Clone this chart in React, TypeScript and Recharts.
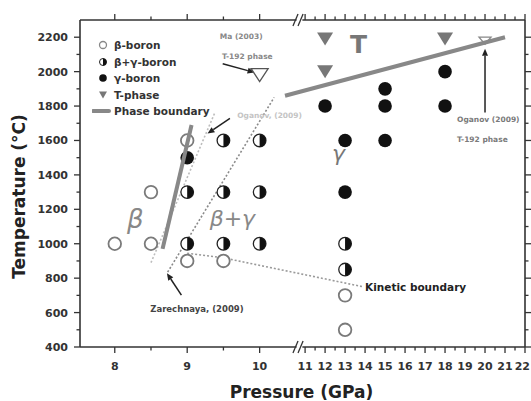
import React from 'react';
import {
  ComposedChart,
  XAxis,
  YAxis,
  Scatter,
  Line,
  ReferenceLine,
  ReferenceDot,
  Legend,
} from 'recharts';

// pressure axis is broken after ~10.6 GPa, right part squeezed
const BREAK_LO = 10.6;
const BREAK_HI = 10.9;
const SQUEEZE = 0.276;
const toU = (p: number) => (p <= BREAK_LO ? p : BREAK_LO + (p - BREAK_HI) * SQUEEZE);
const fromU = (u: number) => (u <= BREAK_LO ? u : BREAK_HI + (u - BREAK_LO) / SQUEEZE);

const P_MIN = 7.52;
const P_MAX = 22;
const T_MIN = 400;
const T_MAX = 2300;

// beta-boron (open circles)
const betaP = [8, 8.5, 8.5, 9, 9, 9.5, 13, 13];
const betaT = [1000, 1000, 1300, 1600, 900, 900, 700, 500];
// beta + gamma (half filled)
const mixP = [9, 9, 9.5, 9.5, 9.5, 10, 10, 10, 13, 13];
const mixT = [1300, 1000, 1600, 1300, 1000, 1600, 1300, 1000, 1000, 850];
// gamma-boron (filled)
const gammaP = [9, 12, 13, 13, 15, 15, 15, 18, 18];
const gammaT = [1500, 1800, 1600, 1300, 1900, 1800, 1600, 2000, 1800];
// T-phase
const tPhaseP = [12, 12, 18];
const tPhaseT = [2190, 2000, 2190];
// T-192 phase from literature
const maP = [10];
const maT = [1980];
const oganovTriP = [20];
const oganovTriT = [2180];

// boundaries
const boundLowP = [8.66, 9.06];
const boundLowT = [970, 1690];
const boundHighP = [10.35, 21];
const boundHighT = [1860, 2200];
const oganovLineP = [8.5, 9.38];
const oganovLineT = [890, 1760];
const zarechLineP = [8.73, 10.2];
const zarechLineT = [835, 1850];
const kineticP = [9, 9.5, 13.9];
const kineticT = [945, 918, 750];

const xTicksP = [8, 8.5, 9, 9.5, 10, 11, 11.5, 12, 12.5, 13, 13.5, 14, 14.5, 15, 15.5, 16, 16.5, 17, 17.5, 18, 18.5, 19, 19.5, 20, 20.5, 21, 21.5, 22];
const yTicks = [400, 500, 600, 700, 800, 900, 1000, 1100, 1200, 1300, 1400, 1500, 1600, 1700, 1800, 1900, 2000, 2100, 2200];

const legendLabels = ['β-boron', 'β+γ-boron', 'γ-boron', 'T-phase', 'Phase boundary'];

const FONT = '"DejaVu Sans", sans-serif';
const AX = '#333';

const pts = (ps: number[], ts: number[]) => ps.map((p, i) => ({ u: toU(p), t: ts[i] }));

const OpenCircle = ({ cx, cy }: any) => (
  <circle cx={cx} cy={cy} r={6.3} fill="#fff" stroke="#7a7a7a" strokeWidth={1.8} />
);
const FullCircle = ({ cx, cy }: any) => <circle cx={cx} cy={cy} r={6.8} fill="#111" />;
const HalfCircle = ({ cx, cy }: any) => {
  const r = 6.3;
  return (
    <g>
      <circle cx={cx} cy={cy} r={r} fill="#fff" stroke="#222" strokeWidth={1.3} />
      <path d={`M${cx},${cy - r} A${r},${r} 0 0 1 ${cx},${cy + r} Z`} fill="#111" />
    </g>
  );
};
const DownTri = ({ cx, cy, w = 8, h = 6.5, fill = '#777', stroke = 'none' }: any) => (
  <polygon
    points={`${cx - w},${cy - h} ${cx + w},${cy - h} ${cx},${cy + h}`}
    fill={fill}
    stroke={stroke}
    strokeWidth={1.3}
  />
);

const Arrow = (props: any) => {
  const { x1, y1, x2, y2 } = props;
  const a = Math.atan2(y2 - y1, x2 - x1);
  const L = 7;
  const W = 3;
  const bx = x2 - L * Math.cos(a);
  const by = y2 - L * Math.sin(a);
  const px = -Math.sin(a) * W;
  const py = Math.cos(a) * W;
  return (
    <g>
      <line x1={x1} y1={y1} x2={bx} y2={by} stroke="#222" strokeWidth={1.5} />
      <polygon points={`${x2},${y2} ${bx + px},${by + py} ${bx - px},${by - py}`} fill="#222" />
    </g>
  );
};

const XTick = (props: any) => {
  const { x, y, payload, side } = props;
  const p = Math.round(fromU(payload.value) * 2) / 2;
  const major = Number.isInteger(p);
  const len = major ? 6 : 3.5;
  const dir = side === 'top' ? -1 : 1;
  // last label sits on the chart edge, keep it inside
  const last = p === P_MAX;
  return (
    <g>
      <line x1={x} x2={x} y1={y} y2={y + dir * len} stroke={AX} strokeWidth={1.3} />
      {side === 'bottom' && major && (
        <text
          x={last ? x + 5 : x}
          y={y + 23}
          textAnchor={last ? 'end' : 'middle'}
          fontFamily={FONT}
          fontWeight="bold"
          fontSize={11}
          fill={AX}
        >
          {p}
        </text>
      )}
    </g>
  );
};

const YTick = (props: any) => {
  const { x, y, payload, side } = props;
  const t = payload.value;
  const major = t % 200 === 0;
  const len = major ? 6 : 3.5;
  const dir = side === 'right' ? 1 : -1;
  return (
    <g>
      <line x1={x} x2={x + dir * len} y1={y} y2={y} stroke={AX} strokeWidth={1.3} />
      {side === 'left' && major && (
        <text x={x - 12} y={y + 4} textAnchor="end" fontFamily={FONT} fontWeight="bold" fontSize={11} fill={AX}>
          {t}
        </text>
      )}
    </g>
  );
};

const YTitle = (props: any) => {
  const { viewBox } = props;
  const cy = viewBox.y + viewBox.height / 2 + 13;
  return (
    <text
      x={25}
      y={cy}
      transform={`rotate(-90, 25, ${cy})`}
      textAnchor="middle"
      fontFamily={FONT}
      fontWeight="bold"
      fontSize={17}
      fill="#222"
    >
      Temperature (°C)
    </text>
  );
};

const XTitle = (props: any) => {
  const { viewBox } = props;
  return (
    <text
      x={viewBox.x + viewBox.width / 2 - 1}
      y={viewBox.y + 50.5}
      textAnchor="middle"
      fontFamily={FONT}
      fontWeight="bold"
      fontSize={17}
      fill="#222"
    >
      Pressure (GPa)
    </text>
  );
};

const legendMarkers = [
  <circle cx={11} cy={6} r={3.5} fill="#fff" stroke="#888" strokeWidth={1.3} />,
  <g>
    <circle cx={11} cy={6} r={3.5} fill="#fff" stroke="#222" strokeWidth={1} />
    <path d="M11,2.5 A3.5,3.5 0 0 1 11,9.5 Z" fill="#111" />
  </g>,
  <circle cx={11} cy={6} r={3.8} fill="#111" />,
  <polygon points="7,2.5 15,2.5 11,9.5" fill="#777" />,
  <line x1={1} x2={17} y1={6} y2={6} stroke="#888" strokeWidth={4} strokeLinecap="round" />,
];

const LegendBox = () => (
  <div style={{ fontFamily: FONT, fontWeight: 'bold', fontSize: 10.5, color: '#333' }}>
    {legendLabels.map((lab, i) => (
      <div key={lab} style={{ display: 'flex', alignItems: 'center', height: 16.5, whiteSpace: 'nowrap' }}>
        <svg width={22} height={12}>{legendMarkers[i]}</svg>
        <span>{lab}</span>
      </div>
    ))}
  </div>
);

const note = (p: number, t: number, text: string, style: any) => (
  <ReferenceDot
    key={text + p + t}
    xAxisId="b"
    yAxisId="l"
    x={toU(p)}
    y={t}
    r={0}
    ifOverflow="visible"
    shape={(s: any) => (
      <text x={s.cx} y={s.cy} fontFamily={FONT} {...style}>
        {text}
      </text>
    )}
  />
);

const arrow = (p1: number, t1: number, p2: number, t2: number) => (
  <ReferenceLine
    key={`ar-${p1}-${t1}`}
    xAxisId="b"
    yAxisId="l"
    segment={[{ x: toU(p1), y: t1 }, { x: toU(p2), y: t2 }]}
    ifOverflow="visible"
    shape={Arrow}
  />
);

const seg = (u1: number, t1: number, u2: number, t2: number, w = 1.6) => (
  <ReferenceLine
    key={`sg-${u1}-${t1}-${u2}-${t2}`}
    xAxisId="b"
    yAxisId="l"
    segment={[{ x: u1, y: t1 }, { x: u2, y: t2 }]}
    ifOverflow="visible"
    stroke={AX}
    strokeWidth={w}
  />
);

const U_MIN = toU(P_MIN);
const U_MAX = toU(P_MAX);
const U_GAP_L = 10.51;
const U_GAP_R = 10.59;

export default function App() {
  const xTicks = xTicksP.map(toU);
  const small = { fontWeight: 'bold', fontSize: 7.5, fill: '#888' };
  return (
    <div style={{ position: 'absolute', left: 0, top: 0, width: 531, height: 401, background: '#fff' }}>
      <ComposedChart width={531} height={401} margin={{ top: 0, right: 0, bottom: 0, left: 0 }}>
        <XAxis
          xAxisId="b"
          orientation="bottom"
          type="number"
          dataKey="u"
          domain={[U_MIN, U_MAX]}
          allowDataOverflow
          ticks={xTicks}
          interval={0}
          height={54}
          axisLine={false}
          tickLine={false}
          tickSize={0}
          tickMargin={0}
          tick={(p: any) => <XTick {...p} side="bottom" />}
          label={<XTitle />}
        />
        <XAxis
          xAxisId="t"
          orientation="top"
          type="number"
          dataKey="u"
          domain={[U_MIN, U_MAX]}
          allowDataOverflow
          ticks={xTicks}
          interval={0}
          height={20}
          axisLine={false}
          tickLine={false}
          tickSize={0}
          tickMargin={0}
          tick={(p: any) => <XTick {...p} side="top" />}
        />
        <YAxis
          yAxisId="l"
          orientation="left"
          type="number"
          dataKey="t"
          domain={[T_MIN, T_MAX]}
          allowDataOverflow
          ticks={yTicks}
          interval={0}
          width={80}
          axisLine={{ stroke: AX, strokeWidth: 1.6 }}
          tickLine={false}
          tickSize={0}
          tickMargin={0}
          tick={(p: any) => <YTick {...p} side="left" />}
          label={<YTitle />}
        />
        <YAxis
          yAxisId="r"
          orientation="right"
          type="number"
          dataKey="t"
          domain={[T_MIN, T_MAX]}
          allowDataOverflow
          ticks={yTicks}
          interval={0}
          width={6}
          axisLine={{ stroke: AX, strokeWidth: 1.6 }}
          tickLine={false}
          tickSize={0}
          tickMargin={0}
          tick={(p: any) => <YTick {...p} side="right" />}
        />

        <Legend
          layout="vertical"
          align="center"
          verticalAlign="middle"
          content={<LegendBox />}
          wrapperStyle={{ left: 92, top: 36.75, width: 'auto', height: 'auto' }}
        />

        {/* broken pressure axis, bottom and top */}
        {seg(U_MIN, T_MIN, U_GAP_L, T_MIN)}
        {seg(U_GAP_R, T_MIN, U_MAX, T_MIN)}
        {seg(U_MIN, T_MAX, U_GAP_L, T_MAX)}
        {seg(U_GAP_R, T_MAX, U_MAX, T_MAX)}
        {seg(10.46, T_MIN - 35, 10.53, T_MIN + 35, 1.3)}
        {seg(10.53, T_MIN - 35, 10.60, T_MIN + 35, 1.3)}
        {seg(10.46, T_MAX - 35, 10.53, T_MAX + 35, 1.3)}
        {seg(10.53, T_MAX - 35, 10.60, T_MAX + 35, 1.3)}

        <Line xAxisId="b" yAxisId="l" data={pts(oganovLineP, oganovLineT)} dataKey="t" type="linear"
          stroke="#bdbdbd" strokeWidth={1.6} strokeDasharray="2 2" dot={false} activeDot={false} isAnimationActive={false} />
        <Line xAxisId="b" yAxisId="l" data={pts(zarechLineP, zarechLineT)} dataKey="t" type="linear"
          stroke="#8a8a8a" strokeWidth={1.6} strokeDasharray="2 2" dot={false} activeDot={false} isAnimationActive={false} />
        <Line xAxisId="b" yAxisId="l" data={pts(kineticP, kineticT)} dataKey="t" type="linear"
          stroke="#9a9a9a" strokeWidth={1.6} strokeDasharray="2 2" dot={false} activeDot={false} isAnimationActive={false} />

        <Scatter xAxisId="b" yAxisId="l" data={pts(betaP, betaT)} dataKey="t" shape={OpenCircle} isAnimationActive={false} />
        <Scatter xAxisId="b" yAxisId="l" data={pts(mixP, mixT)} dataKey="t" shape={HalfCircle} isAnimationActive={false} />
        <Scatter xAxisId="b" yAxisId="l" data={pts(gammaP, gammaT)} dataKey="t" shape={FullCircle} isAnimationActive={false} />
        <Scatter xAxisId="b" yAxisId="l" data={pts(tPhaseP, tPhaseT)} dataKey="t" shape={(s: any) => <DownTri cx={s.cx} cy={s.cy} />} isAnimationActive={false} />
        <Scatter xAxisId="b" yAxisId="l" data={pts(maP, maT)} dataKey="t"
          shape={(s: any) => <DownTri cx={s.cx} cy={s.cy} w={8.5} h={6.5} fill="#fff" stroke="#555" />} isAnimationActive={false} />
        <Scatter xAxisId="b" yAxisId="l" data={pts(oganovTriP, oganovTriT)} dataKey="t"
          shape={(s: any) => <DownTri cx={s.cx} cy={s.cy} w={6} h={3.5} fill="#fff" stroke="#888" />} isAnimationActive={false} />

        {/* phase boundaries drawn over the markers */}
        <Line xAxisId="b" yAxisId="l" data={pts(boundLowP, boundLowT)} dataKey="t" type="linear" zIndex={700}
          stroke="#888" strokeWidth={4} dot={false} activeDot={false} isAnimationActive={false} />
        <Line xAxisId="b" yAxisId="l" data={pts(boundHighP, boundHighT)} dataKey="t" type="linear" zIndex={700}
          stroke="#888" strokeWidth={4} dot={false} activeDot={false} isAnimationActive={false} />

        {arrow(9.49, 2046, 9.93, 1995)}
        {arrow(9.59, 1728, 9.28, 1640)}
        {arrow(8.92, 701, 8.72, 829)}
        {arrow(20, 1762, 20, 2133)}

        {note(9.45, 2190, 'Ma (2003)', small)}
        {note(9.48, 2075, 'T-192 phase', small)}
        {note(9.69, 1728, 'Oganov, (2009)', { ...small, fill: '#c4c4c4' })}
        {note(18.6, 1710, 'Oganov (2009)', { ...small, fill: '#7a7a7a' })}
        {note(18.6, 1594, 'T-192 phase', { ...small, fill: '#7a7a7a' })}
        {note(8.49, 603, 'Zarechnaya, (2009)', { fontWeight: 'bold', fontSize: 8.5, fill: '#444' })}
        {note(14.0, 725, 'Kinetic boundary', { fontWeight: 'bold', fontSize: 10.5, fill: '#222' })}
        {note(8.17, 1090, 'β', { fontStyle: 'italic', fontSize: 26, fill: '#888' })}
        {note(9.31, 1101, 'β+γ', { fontStyle: 'italic', fontSize: 22, fill: '#888' })}
        {note(12.35, 1478, 'γ', { fontStyle: 'italic', fontSize: 22, fill: '#777' })}
        {note(13.25, 2110, 'T', { fontWeight: 'bold', fontSize: 25, fill: '#777' })}
      </ComposedChart>
    </div>
  );
}
